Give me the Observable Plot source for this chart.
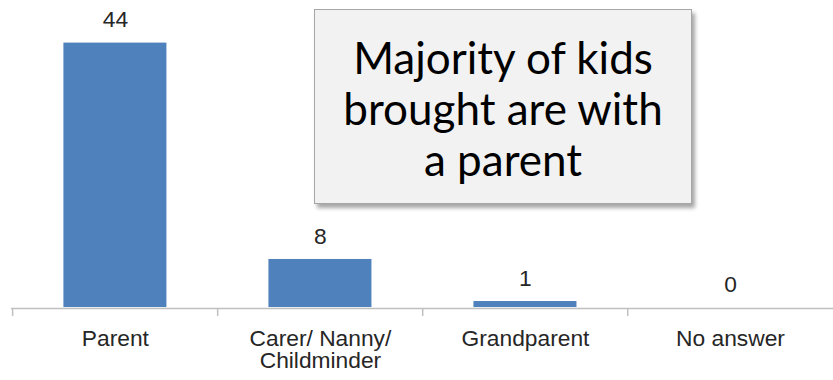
<!DOCTYPE html>
<html><head><meta charset="utf-8">
<script src="https://cdn.jsdelivr.net/npm/d3@7"></script>
<script src="https://cdn.jsdelivr.net/npm/@observablehq/plot@0.6"></script>
<style>
html,body{margin:0;padding:0;background:#fff;overflow:hidden;}
#wrap{position:relative;width:833px;height:380px;overflow:hidden;}
#note{position:absolute;left:314px;top:9px;width:378px;height:195px;box-sizing:border-box;background:#f2f2f2;border:1px solid #a6a6a6;box-shadow:3px 4px 4px rgba(0,0,0,0.35);font-family:Lato,"Open Sans",sans-serif;font-size:44px;line-height:51px;text-align:center;color:#000;padding-top:22px;white-space:nowrap;}
</style></head>
<body><div id="wrap"></div>
<script>
const categories = ["Parent", "Carer/ Nanny/\nChildminder", "Grandparent", "No answer"];
const values = [44, 8, 1, 0];
const noteLines = ["Majority of kids", "brought are with", "a parent"];

const data = categories.map((c, i) => ({category: c, value: values[i]}));
const W = 841, ML = 11;
const step = (W - ML) / categories.length;
const textColor = "#262626";
const axisColor = "#bfbfbf";

const chart = Plot.plot({
  width: W, height: 380,
  marginLeft: ML, marginRight: 0, marginTop: 43, marginBottom: 70,
  style: {fontFamily: "'Liberation Sans', Arial, sans-serif", fontSize: "23px", color: textColor, background: "white", overflow: "visible"},
  x: {domain: categories, paddingInner: 0.5, paddingOuter: 0.25, label: null},
  y: {domain: [0, 44], axis: null},
  marks: [
    Plot.barY(data, {x: "category", y: "value", fill: "#4F81BD"}),
    Plot.ruleY([0], {stroke: axisColor, strokeWidth: 1.5, dy: 1}),
    Plot.axisX({ticks: categories, tickSize: 8, tickFormat: () => "", label: null, dx: -step / 2, dy: 1, stroke: axisColor, strokeWidth: 1.5}),
    Plot.axisX({ticks: categories, tickSize: 0, tickPadding: 22, label: null, fontSize: 23, lineHeight: 1.0, fill: textColor}),
    Plot.text(data, {x: "category", y: "value", text: d => String(d.value), dy: -16, lineAnchor: "bottom", fontSize: 23, fill: textColor})
  ]
});
const wrap = document.getElementById("wrap");
wrap.appendChild(chart);
const note = document.createElement("div");
note.id = "note";
note.innerHTML = noteLines.join("<br>");
wrap.appendChild(note);
</script>
</body></html>
